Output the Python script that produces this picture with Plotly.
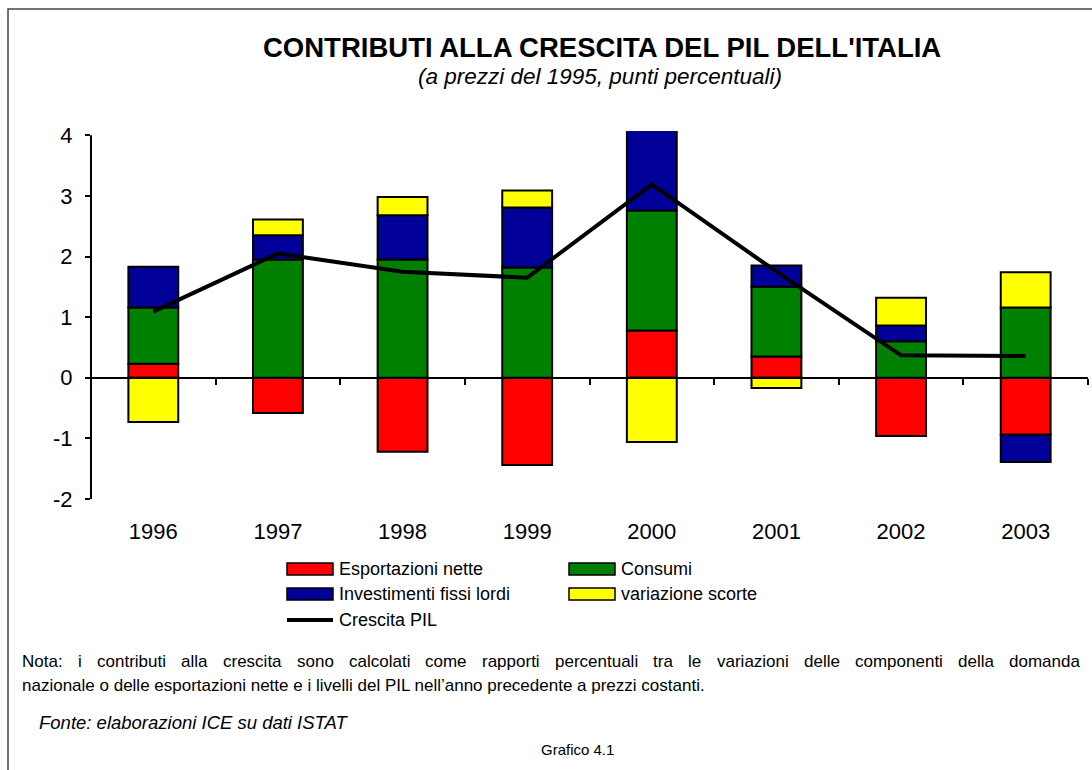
import plotly.graph_objects as go

years = ["1996", "1997", "1998", "1999", "2000", "2001", "2002", "2003"]
esportazioni_nette = [0.23, -0.58, -1.22, -1.44, 0.78, 0.35, -0.96, -0.94]
consumi = [0.93, 1.95, 1.95, 1.82, 1.98, 1.15, 0.60, 1.16]
investimenti = [0.67, 0.40, 0.73, 0.99, 1.49, 0.35, 0.26, -0.45]
variazione_scorte = [-0.73, 0.26, 0.30, 0.28, -1.06, -0.17, 0.46, 0.58]
crescita_pil = [1.09, 2.05, 1.75, 1.65, 3.19, 1.75, 0.37, 0.36]
y_ticks = [-2, -1, 0, 1, 2, 3, 4]

FONT = "Liberation Sans, Arial, sans-serif"
W, H = 1092, 770
L, R, T, B = 91, 1088, 131, 499
YMIN, YMAX = -2, 4.07


def px(x):
    return (x - L) / (R - L)


def py(y):
    return (B - y) / (B - T)


fig = go.Figure()
series = [
    ("Esportazioni nette", esportazioni_nette, "#FF0000"),
    ("Consumi", consumi, "#008000"),
    ("Investimenti fissi lordi", investimenti, "#000099"),
    ("variazione scorte", variazione_scorte, "#FFFF00"),
]
for name, vals, col in series:
    fig.add_trace(go.Bar(
        x=years, y=vals, name=name, width=0.4,
        marker=dict(color=col, line=dict(color="black", width=2)),
        showlegend=False, xaxis="x", yaxis="y",
    ))
fig.add_trace(go.Scatter(
    x=years, y=crescita_pil, name="Crescita PIL", mode="lines",
    line=dict(color="black", width=4), showlegend=False,
    xaxis="x2", yaxis="y", cliponaxis=False,
))

annotations = []
shapes = []

# frame
shapes.append(dict(type="rect", xref="paper", yref="paper",
                   x0=px(8), x1=px(1110), y0=py(800), y1=py(9),
                   line=dict(color="#444444", width=1.5), layer="below"))
# y axis line
shapes.append(dict(type="line", xref="paper", yref="y", x0=0, x1=0,
                   y0=-2, y1=4, line=dict(color="black", width=2)))

def ann(text, x, y, size, xanchor="center", italic=False, bold=False, color="black"):
    if bold:
        text = "<b>" + text + "</b>"
    if italic:
        text = "<i>" + text + "</i>"
    annotations.append(dict(text=text, x=px(x), y=py(y), xref="paper", yref="paper",
                            showarrow=False, xanchor=xanchor, yanchor="middle",
                            font=dict(family=FONT, size=size, color=color)))

ann("CONTRIBUTI ALLA CRESCITA DEL PIL DELL'ITALIA", 602, 47, 27.5, bold=True)
ann("(a prezzi del 1995, punti percentuali)", 600, 77, 22.5, italic=True)

# legend
leg = [
    ("Esportazioni nette", "#FF0000", 287, 569),
    ("Consumi", "#008000", 569, 569),
    ("Investimenti fissi lordi", "#000099", 287, 594),
    ("variazione scorte", "#FFFF00", 569, 594),
]
for name, col, x0, yc in leg:
    shapes.append(dict(type="rect", xref="paper", yref="paper",
                       x0=px(x0), x1=px(x0 + 46), y0=py(yc + 6), y1=py(yc - 6),
                       fillcolor=col, line=dict(color="black", width=1.5)))
    ann(name, x0 + 50, yc, 18, xanchor="left")
shapes.append(dict(type="line", xref="paper", yref="paper",
                   x0=px(287), x1=px(333), y0=py(620), y1=py(620),
                   line=dict(color="black", width=4)))
ann("Crescita PIL", 337, 620, 18, xanchor="left")

# note line 1, justified by placing words
AW = {'a':556,'b':556,'c':500,'d':556,'e':556,'f':278,'g':556,'h':556,'i':222,'j':222,
      'k':500,'l':222,'m':833,'n':556,'o':556,'p':556,'q':556,'r':333,'s':500,'t':278,
      'u':556,'v':500,'w':722,'x':500,'y':500,'z':500,'N':722,':':278,'.':278,' ':278,
      'P':667,'I':278,'L':556,'\u2019':222}
note_size = 17
line1 = "Nota: i contributi alla crescita sono calcolati come rapporti percentuali tra le variazioni delle componenti della domanda"
words = line1.split(" ")
wid = [sum(AW.get(c, 556) for c in w) * note_size / 1000 for w in words]
x_start, x_end = 20, 1078
gap = (x_end - x_start - sum(wid)) / (len(words) - 1)
xc = x_start
for w, ww in zip(words, wid):
    ann(w, xc, 661, note_size, xanchor="left")
    xc += ww + gap
ann("nazionale o delle esportazioni nette e i livelli del PIL nell\u2019anno precedente a prezzi costanti.",
    20, 685, note_size, xanchor="left")
ann("Fonte: elaborazioni ICE su dati ISTAT", 37, 722, 18.5, xanchor="left", italic=True)
ann("Grafico 4.1", 577, 749, 15)

fig.update_layout(
    width=W, height=H,
    margin=dict(l=L, r=W - R, t=T, b=H - B, pad=0),
    paper_bgcolor="white", plot_bgcolor="white",
    barmode="relative", bargap=0.6,
    font=dict(family=FONT, color="black"),
    xaxis=dict(type="category", categoryorder="array", categoryarray=years,
               showline=False, showgrid=False, zeroline=False, ticks="",
               tickfont=dict(family=FONT, size=22), ticklabelstandoff=17,
               fixedrange=True),
    xaxis2=dict(type="category", categoryorder="array", categoryarray=years,
                overlaying="x", matches="x", anchor="free", position=(0 - YMIN) / (YMAX - YMIN),
                showline=True, linecolor="black", linewidth=2, showgrid=False, zeroline=False,
                ticks="outside", tickson="boundaries", ticklen=6, tickwidth=2, tickcolor="black",
                showticklabels=False),
    yaxis=dict(range=[YMIN, YMAX], tickvals=y_ticks, ticktext=[str(v) for v in y_ticks],
               showline=False, showgrid=False, zeroline=False,
               ticks="outside", ticklen=5, tickwidth=2, tickcolor="black",
               tickfont=dict(family=FONT, size=22), ticklabelstandoff=8),
    shapes=shapes, annotations=annotations, showlegend=False,
)

fig.write_html("out.html", config={"displayModeBar": False},
               post_script="document.body.style.margin='0';")
